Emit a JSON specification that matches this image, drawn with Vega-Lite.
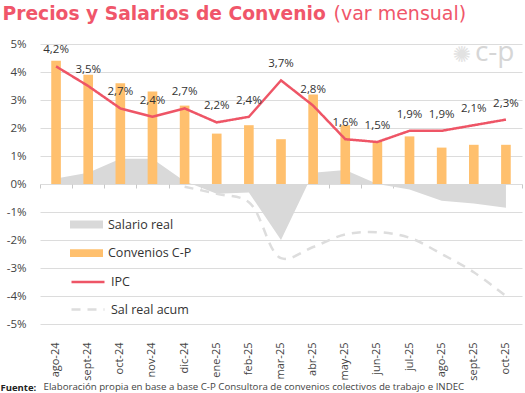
{
  "$schema": "https://vega.github.io/schema/vega-lite/v6.json",
  "width": 482,
  "height": 280,
  "autosize": {"type": "none"},
  "padding": {"left": 40, "top": 44, "right": 3, "bottom": 69},
  "background": "white",
  "config": {
    "font": "Open Sans",
    "view": {"stroke": null},
    "locale": {"number": {"decimal": ",", "thousands": ".", "grouping": [3], "currency": ["$", ""], "minus": "-", "percent": "%"}},
    "axisY": {
      "grid": true, "gridColor": "#dcdcdc", "gridWidth": 1, "domain": false, "ticks": false,
      "labelPadding": 14, "labelFontSize": 11.5, "labelColor": "#444", "tickCount": 10, "format": ".0%",
      "titleAngle": 0, "titleAlign": "left", "titleBaseline": "alphabetic", "titleX": -38, "titleY": -25,
      "titleFont": "DejaVu Sans", "titleFontSize": 18.7, "titleFontWeight": "bold", "titleColor": "#F0566A"
    },
    "legend": {"orient": "none", "title": null, "padding": 0, "labelFontSize": 12.5, "labelColor": "#333", "labelOffset": 5}
  },
  "data": {"values": [
    {"mes": "ago-24", "conv": 0.044, "ipc": 0.042, "salreal": 0.002, "acum": null},
    {"mes": "sept-24", "conv": 0.039, "ipc": 0.035, "salreal": 0.004, "acum": null},
    {"mes": "oct-24", "conv": 0.036, "ipc": 0.027, "salreal": 0.009, "acum": null},
    {"mes": "nov-24", "conv": 0.033, "ipc": 0.024, "salreal": 0.009, "acum": null},
    {"mes": "dic-24", "conv": 0.028, "ipc": 0.027, "salreal": 0.001, "acum": -0.001},
    {"mes": "ene-25", "conv": 0.018, "ipc": 0.022, "salreal": -0.0035, "acum": -0.0035},
    {"mes": "feb-25", "conv": 0.021, "ipc": 0.024, "salreal": -0.003, "acum": -0.0065},
    {"mes": "mar-25", "conv": 0.016, "ipc": 0.037, "salreal": -0.020, "acum": -0.0265},
    {"mes": "abr-25", "conv": 0.032, "ipc": 0.028, "salreal": 0.004, "acum": -0.0225},
    {"mes": "may-25", "conv": 0.021, "ipc": 0.016, "salreal": 0.005, "acum": -0.018},
    {"mes": "jun-25", "conv": 0.015, "ipc": 0.015, "salreal": 0.000, "acum": -0.0172},
    {"mes": "jul-25", "conv": 0.017, "ipc": 0.019, "salreal": -0.002, "acum": -0.0192},
    {"mes": "ago-25", "conv": 0.013, "ipc": 0.019, "salreal": -0.006, "acum": -0.025},
    {"mes": "sept-25", "conv": 0.014, "ipc": 0.021, "salreal": -0.007, "acum": -0.0315},
    {"mes": "oct-25", "conv": 0.014, "ipc": 0.023, "salreal": -0.0085, "acum": -0.040}
  ]},
  "layer": [
    {
      "mark": {"type": "area"},
      "encoding": {
        "x": {"field": "mes", "type": "ordinal", "sort": null,
          "scale": {"type": "band", "paddingInner": 0, "paddingOuter": 0},
          "axis": {"orient": "bottom", "labelAngle": -90, "labelAlign": "right", "labelBaseline": "middle",
            "labelPadding": 18, "labelFontSize": 11, "labelColor": "#444", "ticks": false, "domain": false, "grid": false,
            "title": "Fuente:", "titleX": -40, "titleY": 66, "titleAlign": "left", "titleAnchor": "start", "titleBaseline": "alphabetic",
            "titleFontSize": 9.5, "titleFontWeight": "bold", "titleColor": "#222"}},
        "y": {"field": "salreal", "type": "quantitative", "title": "Precios y Salarios de Convenio",
          "scale": {"domain": [-0.05, 0.05], "nice": false}, "axis": {"format": ".0%"}},
        "fill": {"datum": "Salario real",
          "scale": {"domain": ["Salario real", "Convenios C-P"], "range": ["#D9D9D9", "#FFC06E"]},
          "legend": {"legendX": 30, "legendY": 164, "symbolType": "M-1,-0.24H1V0.24H-1Z", "symbolSize": 1089,
            "symbolStrokeWidth": 0, "rowPadding": 5.6}}
      }
    },
    {
      "mark": {"type": "bar", "width": {"band": 0.3}},
      "encoding": {
        "x": {"field": "mes", "type": "ordinal", "sort": null,
          "axis": {"orient": "bottom", "offset": -140, "labels": false, "ticks": true, "tickBand": "extent", "tickSize": 4,
            "tickColor": "#c8c8c8", "domain": false, "grid": false,
            "title": "Elaboración propia en base a base C-P Consultora de convenios colectivos de trabajo e INDEC",
            "titleX": 3, "titleY": 205, "titleAlign": "left", "titleAnchor": "start", "titleBaseline": "alphabetic",
            "titleFontSize": 9.7, "titleFontWeight": "normal", "titleColor": "#444"}},
        "y": {"field": "conv", "type": "quantitative", "title": "Precios y Salarios de Convenio",
          "scale": {"domain": [-0.05, 0.05], "nice": false}},
        "fill": {"datum": "Convenios C-P"}
      }
    },
    {
      "mark": {"type": "line", "strokeWidth": 2.5},
      "encoding": {
        "x": {"field": "mes", "type": "ordinal", "sort": null,
          "axis": {"orient": "top", "labels": false, "ticks": false, "domain": false, "grid": false,
            "title": "(var mensual)", "titleX": 293, "titleY": -24.5, "titleAlign": "left", "titleAnchor": "start",
            "titleBaseline": "alphabetic", "titleFont": "DejaVu Sans", "titleFontSize": 19, "titleFontWeight": "normal", "titleColor": "#F0566A"}},
        "y": {"field": "ipc", "type": "quantitative", "title": "Precios y Salarios de Convenio",
          "scale": {"domain": [-0.05, 0.05], "nice": false}},
        "stroke": {"datum": "IPC",
          "scale": {"domain": ["IPC", "Sal real acum"], "range": ["#EE5566", "#DDDDDD"]},
          "legend": {"legendX": 30, "legendY": 220, "symbolType": "stroke", "symbolSize": 1089, "symbolStrokeWidth": 2.5, "rowPadding": 2.6}},
        "strokeDash": {"datum": "IPC",
          "scale": {"domain": ["IPC", "Sal real acum"], "range": [[1, 0], [9, 7]]}}
      }
    },
    {
      "mark": {"type": "text", "fontSize": 11.5, "color": "#333", "baseline": "middle", "dy": -16},
      "encoding": {
        "x": {"field": "mes", "type": "ordinal", "sort": null, "axis": null},
        "y": {"field": "ipc", "type": "quantitative", "title": "Precios y Salarios de Convenio",
          "scale": {"domain": [-0.05, 0.05], "nice": false}},
        "text": {"field": "ipc", "type": "quantitative", "format": ".1%"}
      }
    },
    {
      "mark": {"type": "line", "strokeWidth": 2.5, "interpolate": "catmull-rom"},
      "encoding": {
        "x": {"field": "mes", "type": "ordinal", "sort": null, "axis": null},
        "y": {"field": "acum", "type": "quantitative", "title": "Precios y Salarios de Convenio",
          "scale": {"domain": [-0.05, 0.05], "nice": false}},
        "stroke": {"datum": "Sal real acum"},
        "strokeDash": {"datum": "Sal real acum"}
      }
    },
    {
      "data": {"values": [{"logo": "c-p"}]},
      "mark": {"type": "text", "text": "c-p", "fontSize": 28, "color": "#D6D6D6", "align": "left", "baseline": "middle", "dx": -31, "dy": -2},
      "encoding": {
        "x": {"datum": "oct-25", "type": "ordinal", "axis": null},
        "y": {"datum": 0.046, "type": "quantitative", "title": "Precios y Salarios de Convenio"}
      }
    },
    {
      "data": {"values": [{"logo": "sol"}]},
      "mark": {"type": "text", "text": "✺", "font": "DejaVu Sans", "fontSize": 22, "color": "#E2E2E2", "align": "center", "baseline": "middle", "dx": -44, "dy": 0},
      "encoding": {
        "x": {"datum": "oct-25", "type": "ordinal", "axis": null},
        "y": {"datum": 0.046, "type": "quantitative", "title": "Precios y Salarios de Convenio"}
      }
    }
  ],
  "resolve": {"axis": {"x": "independent"}}
}
